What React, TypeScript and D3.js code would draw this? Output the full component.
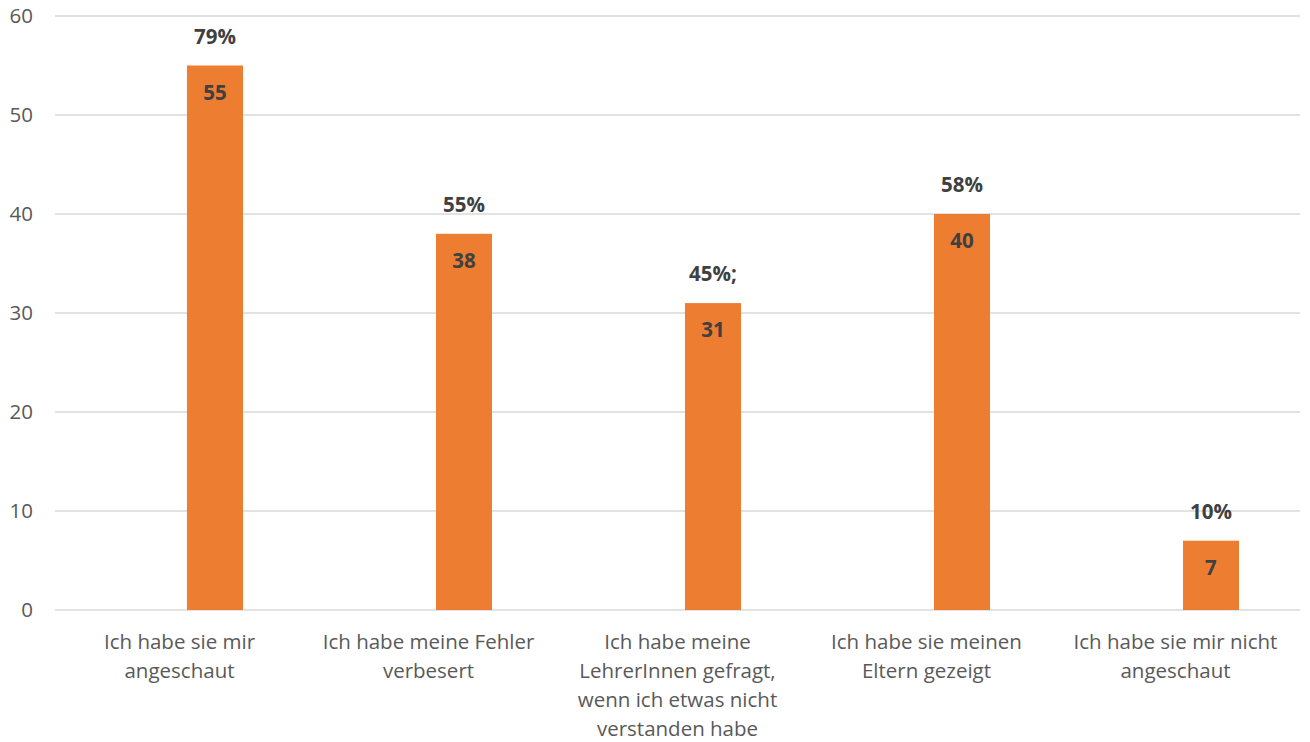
import React from "react";
import * as d3 from "d3";

const categories: string[][] = [
  ["Ich habe sie mir", "angeschaut"],
  ["Ich habe meine Fehler", "verbesert"],
  ["Ich habe meine", "LehrerInnen gefragt,", "wenn ich etwas nicht", "verstanden habe"],
  ["Ich habe sie meinen", "Eltern gezeigt"],
  ["Ich habe sie mir nicht", "angeschaut"],
];
const values = [55, 38, 31, 40, 7];
const percents = ["79%", "55%", "45%;", "58%", "10%"];
const yTicks = [0, 10, 20, 30, 40, 50, 60];

const W = 1310;
const H = 742;
const left = 55;
const right = 1300;
const top = 16;
const bottom = 610;
const font = "'Open Sans', sans-serif";

export default function App() {
  const x = d3
    .scaleBand<number>()
    .domain(values.map((_, i) => i))
    .range([left, right]);
  const y = d3.scaleLinear().domain([0, 60]).range([bottom, top]);
  const step = x.bandwidth();
  const bw = step * 0.225;
  const barOffset = step * 0.1425;

  return (
    <svg width={W} height={H} style={{ position: "absolute", left: 0, top: 0, background: "#fff" }}>
      {yTicks.map((t) => (
        <g key={t}>
          <line x1={left} x2={right} y1={y(t)} y2={y(t)} stroke="#d9d9d9" strokeWidth={1.3} />
          <text x={33} y={y(t)} dy="0.35em" textAnchor="end" fontFamily={font} fontSize={20.5} fill="#595959">
            {t}
          </text>
        </g>
      ))}
      {values.map((v, i) => {
        const cc = (x(i) as number) + step / 2;
        const bc = cc + barOffset;
        return (
          <g key={i}>
            <rect x={bc - bw / 2} y={y(v)} width={bw} height={y(0) - y(v)} fill="#ED7D31" />
            <text x={bc} y={y(v) + 27} dy="0.35em" textAnchor="middle" fontFamily={font} fontSize={20.5} fontWeight="bold" fill="#404040">
              {v}
            </text>
            <text x={bc} y={y(v) - 29} dy="0.35em" textAnchor="middle" fontFamily={font} fontSize={20.5} fontWeight="bold" fill="#404040">
              {percents[i]}
            </text>
            {categories[i].map((line, j) => (
              <text key={j} x={cc} y={642 + j * 29} dy="0.35em" textAnchor="middle" fontFamily={font} fontSize={20.5} fill="#595959">
                {line}
              </text>
            ))}
          </g>
        );
      })}
    </svg>
  );
}
